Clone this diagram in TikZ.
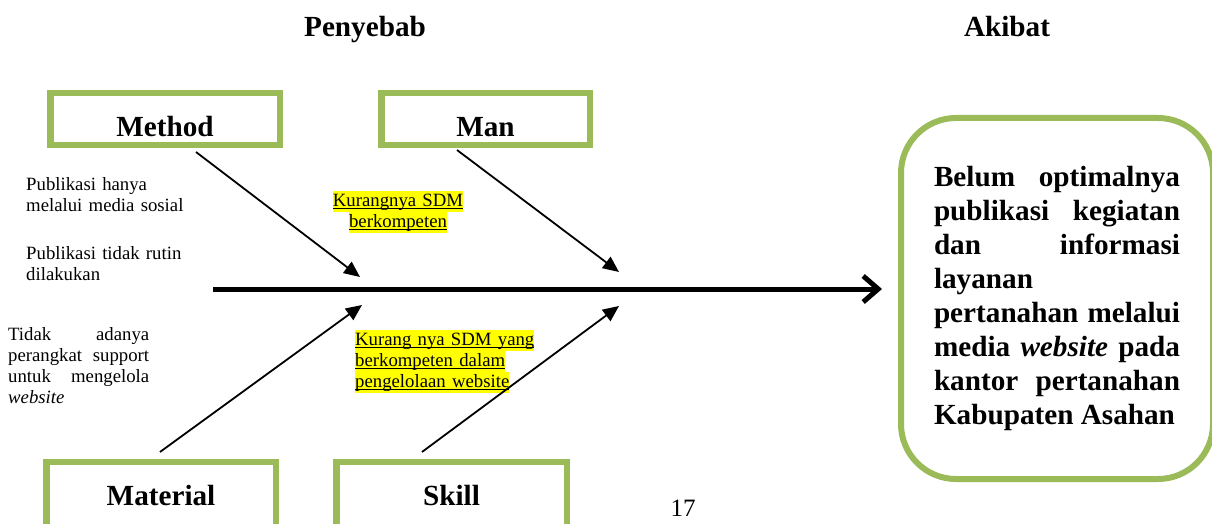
\documentclass[tikz,border=0pt]{standalone}
\usepackage{fontspec}
\setmainfont{Liberation Serif}
\usepackage{xcolor}
\usetikzlibrary{arrows.meta}

\definecolor{boxgreen}{HTML}{9BBB59}
\definecolor{hlyellow}{HTML}{FFFF00}
\hyphenpenalty=10000
\exhyphenpenalty=10000
\tolerance=10000

\newsavebox\hlsave
\newcommand{\hltext}[1]{\sbox\hlsave{#1}{\setlength{\fboxsep}{0pt}\colorbox{hlyellow}{\strut\rlap{\rule[-3pt]{\wd\hlsave}{1.1pt}}\usebox\hlsave}}}
\newcommand{\bigbf}{\fontsize{29.2}{33.9}\selectfont\bfseries}
\newcommand{\smalltxt}{\fontsize{18.75}{21}\selectfont}

\begin{document}
\begin{tikzpicture}[
			x=1pt, y=-1pt,
			every node/.style={inner sep=0pt},
			causebox/.style={draw=boxgreen,line width=6.5pt,minimum height=51.5pt,text height=34pt,text depth=0pt,font=\bigbf},
			lowbox/.style={causebox,minimum height=82.75pt,text height=2.8pt},
			resbox/.style={draw=boxgreen,line width=6pt,rounded corners=55pt,minimum width=312pt,minimum height=361pt,text width=246pt,align=justify,font=\bigbf},
			title/.style={anchor=base,font=\bigbf},
			note/.style={anchor=base west,font=\smalltxt},
			cause/.style={line width=1.8pt,-{Triangle[length=16pt,width=14pt]}},
			spine/.style={line width=5pt,-{Straight Barb[length=15pt,width=26pt]}}
		]
		\useasboundingbox (0,0) rectangle (1212,524);
		\clip (0,0) rectangle (1212,524);

		\node[title] (penyebab) at (365,37) {Penyebab};
		\node[title] (akibattitle) at (1007,37) {Akibat};

		\node[causebox,minimum width=229.5pt] (method) at (165,119) {Method};
		\node[causebox,minimum width=208.5pt] (man) at (485.5,119) {Man};
		\node[lowbox,minimum width=229.5pt] (material) at (161,503.6) {Material};
		\node[lowbox,minimum width=230.5pt] (skill) at (451.5,503.6) {Skill};

		\node[resbox] (akibat) at (1057,298.5) {Belum optimalnya\linebreak publikasi kegiatan\linebreak dan informasi\linebreak layanan\\ pertanahan melalui\linebreak media \textit{website} pada\linebreak kantor pertanahan\linebreak Kabupaten Asahan};

		\node[note,text width=200pt,align=left] (pub1) at (26,190) {Publikasi hanya\\melalui media sosial};
		\node[note,text width=200pt,align=left] (pub2) at (26,259) {Publikasi tidak rutin\\dilakukan};
		\node[note,text width=141pt,align=justify] (perangkat) at (8,340) {Tidak adanya\linebreak perangkat support\linebreak untuk mengelola\linebreak \textit{website}};

		\node[font=\smalltxt,anchor=base,text width=150pt,align=center] (sdm1) at (398,206) {\hltext{Kurangnya SDM}\\\hltext{berkompeten}};
		\node[note,text width=190pt,align=left] (sdm2) at (355,345) {\hltext{Kurang nya SDM yang}\\\hltext{berkompeten dalam}\\\hltext{pengelolaan website}};

		\node[anchor=base,font=\fontsize{25}{30}\selectfont] (pgnum) at (683,516) {17};

		\coordinate (spL) at (213,289);
		\coordinate (tMethod) at (360,277);
		\coordinate (tMan) at (619,272);
		\coordinate (tMaterial) at (362,305);
		\coordinate (tSkill) at (619,306);

		\draw[spine] (spL) -- ([xshift=-16pt]spL -| akibat.west);
		\draw[cause] ([xshift=31pt,yshift=-4pt]method.south) -- (tMethod);
		\draw[cause] ([xshift=-28.5pt,yshift=-2pt]man.south) -- (tMan);
		\draw[cause] ([xshift=-1pt,yshift=7pt]material.north) -- (tMaterial);
		\draw[cause] ([xshift=-29.5pt,yshift=7pt]skill.north) -- (tSkill);

	\end{tikzpicture}
\end{document}
